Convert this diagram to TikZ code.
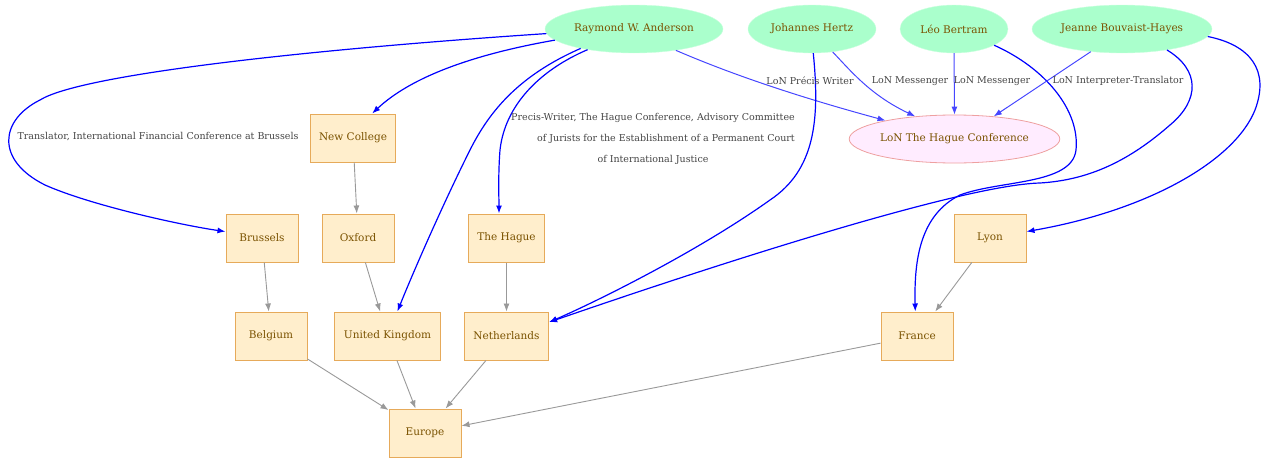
\documentclass[tikz,border=0pt]{standalone}
\usepackage{fontspec}
\setmainfont{DejaVu Serif}
\usetikzlibrary{shapes.geometric,arrows.meta}
\definecolor{mint}{RGB}{170,255,204}
\definecolor{nametext}{RGB}{122,82,0}
\definecolor{placefill}{RGB}{255,238,204}
\definecolor{placeline}{RGB}{230,170,90}
\definecolor{eventfill}{RGB}{255,236,255}
\definecolor{eventline}{RGB}{238,160,160}
\definecolor{lonblue}{RGB}{70,70,255}
\definecolor{labelgray}{RGB}{68,68,68}
\definecolor{geogray}{RGB}{153,153,153}

\begin{document}
\begin{tikzpicture}[x=1pt,y=-1pt,
  >={Latex[length=8pt,width=6pt]},
  person/.style={ellipse,fill=mint,draw=mint!60!white,inner sep=0pt,minimum height=48pt,text=nametext,font=\fontsize{10.5}{12}\selectfont},
  event/.style={ellipse,fill=eventfill,draw=eventline,line width=0.8pt,inner sep=0pt,minimum height=48pt,text=nametext,font=\fontsize{10.5}{12}\selectfont},
  place/.style={rectangle,fill=placefill,draw=placeline,line width=1pt,inner xsep=9pt,minimum width=72pt,minimum height=48pt,text=nametext,font=\fontsize{10.5}{12}\selectfont},
  rel/.style={->,blue,line width=1.2pt},
  lonrel/.style={->,lonblue,line width=1pt},
  geo/.style={->,geogray,line width=0.9pt},
  lbl/.style={text=labelgray,inner sep=0pt,font=\fontsize{9.5}{11.4}\selectfont}]

  \useasboundingbox (0,0) rectangle (1269,463);

  \node[person,minimum width=178pt] (anderson) at (634,29) {Raymond W. Anderson};
  \node[person,minimum width=128pt] (hertz) at (812,29) {Johannes Hertz};
  \node[person,minimum width=108pt] (bertram) at (954,29) {Léo Bertram};
  \node[person,minimum width=180pt] (bouvaist) at (1122,29) {Jeanne Bouvaist-Hayes};
  \node[event,minimum width=203pt] (lonhc) at (954.5,139) {LoN The Hague Conference};

  \node[place] (newcoll) at (353,138) {New College};
  \node[place] (brussels) at (262,238) {Brussels};
  \node[place] (oxford) at (358,238) {Oxford};
  \node[place] (thehague) at (506.5,238) {The Hague};
  \node[place] (lyon) at (990,238) {Lyon};
  \node[place] (belgium) at (271,336) {Belgium};
  \node[place] (uk) at (387.5,336) {United Kingdom};
  \node[place] (netherl) at (506.5,336) {Netherlands};
  \node[place] (france) at (917,336) {France};
  \node[place] (europe) at (425,433) {Europe};

  \foreach \a/\b in {newcoll/oxford,brussels/belgium,oxford/uk,thehague/netherl,lyon/france,belgium/europe,uk/europe,netherl/europe,france/europe}
    \draw[geo] (\a) -- (\b);

  \draw[rel] (anderson.183) .. controls (300,50) and (80,75) .. (40,100) .. controls (0,120) and (-5,160) .. (45,185) .. controls (90,205) and (180,225) .. (brussels.170);
  \draw[rel] (anderson.188) .. controls (470,55) and (410,78) .. (newcoll.52);
  \draw[rel] (anderson.200) .. controls (520,75) and (490,110) .. (470,150) .. controls (440,210) and (410,280) .. (uk.68);
  \draw[rel] (anderson.204) .. controls (540,70) and (505,105) .. (500,150) .. controls (498,175) and (499,200) .. (thehague.107);
  \draw[lonrel] (anderson.333) .. controls (740,78) and (810,100) .. (lonhc.165);
  \draw[rel] (hertz.273) .. controls (820,120) and (815,170) .. (770,200) .. controls (700,250) and (600,300) .. (netherl.18);
  \draw[lonrel] (hertz.312) .. controls (850,70) and (870,95) .. (lonhc.150);
  \draw[lonrel] (bertram.south) -- (lonhc.north);
  \draw[rel] (bertram.338) .. controls (1045,68) and (1080,110) .. (1076,150) .. controls (1072,185) and (1000,180) .. (960,195) .. controls (920,215) and (914,260) .. (france.94);
  \draw[lonrel] (bouvaist.216) -- (lonhc.30);
  \draw[rel] (bouvaist.335) .. controls (1200,70) and (1200,100) .. (1170,125) .. controls (1130,160) and (1090,180) .. (1040,183) .. controls (960,185) and (700,270) .. (netherl.18);
  \draw[rel] (bouvaist.355) .. controls (1250,45) and (1270,70) .. (1255,110) .. controls (1235,160) and (1150,210) .. (lyon.10);

  \node[lbl] (lbrussels) at (158,137) {Translator, International Financial Conference at Brussels};
  \node[lbl] (lthehague) at (653,137) {\def\arraystretch{1.84}\begin{tabular}{@{}c@{}}Precis-Writer, The Hague Conference, Advisory Committee\\ \hfill of Jurists for the Establishment of a Permanent Court\\ of International Justice\end{tabular}};
  \node[lbl] (lprecis) at (810,81) {LoN Précis Writer};
  \node[lbl] (lmess1) at (910,81) {LoN Messenger};
  \node[lbl] (lmess2) at (992,81) {LoN Messenger};
  \node[lbl] (linterp) at (1118,81) {LoN Interpreter-Translator};
\end{tikzpicture}
\end{document}
